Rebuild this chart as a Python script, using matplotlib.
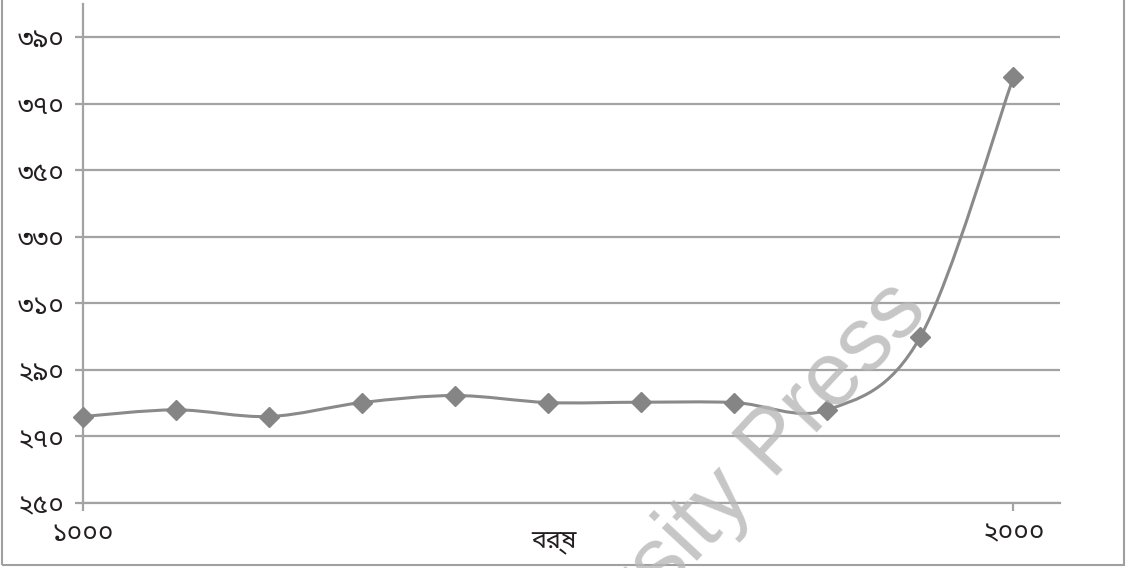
import matplotlib
matplotlib.use("Agg")
import matplotlib.pyplot as plt
from matplotlib.path import Path
from matplotlib.patches import PathPatch
import numpy as np

# data
years = [1000, 1100, 1200, 1300, 1400, 1500, 1600, 1700, 1800, 1900, 2000]
values = [276, 278, 276, 280.2, 282.3, 280.2, 280.3, 280.2, 278, 300, 378]
yticks = [250, 270, 290, 310, 330, 350, 370, 390]
ytick_labels = ["২৫০", "২৭০", "২৯০", "৩১০", "৩৩০", "৩৫০", "৩৭০", "৩৯০"]
xticks = [1000, 2000]
xtick_labels = ["১০০০", "২০০০"]
xlabel = "বর্ষ"

plt.rcParams['font.family'] = ["Noto Sans Bengali", "DejaVu Sans"]

grid_c = "#a3a3a3"
line_c = "#8a8a8a"
text_c = "#231f20"

fig = plt.figure(figsize=(11.28, 5.68), dpi=100)
ax = fig.add_axes([83/1128, 65/568, (1060-83)/1128, 499/568])

# smooth line through the points (cubic bezier, catmull-rom style)
xs = np.array(years, dtype=float)
ys = np.array(values, dtype=float)
verts = [(xs[0], ys[0])]
codes = [Path.MOVETO]
for i in range(len(xs) - 1):
    p0 = (xs[i-1], ys[i-1]) if i > 0 else (xs[i], ys[i])
    p1 = (xs[i], ys[i])
    p2 = (xs[i+1], ys[i+1])
    p3 = (xs[i+2], ys[i+2]) if i + 2 < len(xs) else (xs[i+1], ys[i+1])
    t = 6.0
    c1 = (p1[0] + (p2[0]-p0[0])/t, p1[1] + (p2[1]-p0[1])/t)
    c2 = (p2[0] - (p3[0]-p1[0])/t, p2[1] - (p3[1]-p1[1])/t)
    verts += [c1, c2, p2]
    codes += [Path.CURVE4]*3
ax.add_patch(PathPatch(Path(verts, codes), fill=False, edgecolor=line_c, lw=2.2, zorder=3))
ax.plot(years, values, linestyle="none", marker="D", ms=10, color="#858585", zorder=4, clip_on=False)

ax.set_xlim(1000, 2050)
ax.set_ylim(250, 400)
ax.set_yticks(yticks)
ax.set_yticklabels(ytick_labels)
ax.set_xticks(xticks)
ax.set_xticklabels(xtick_labels)
ax.yaxis.grid(True, color=grid_c, lw=1.6)
ax.set_axisbelow(True)
for s in ["top", "right"]:
    ax.spines[s].set_visible(False)
ax.spines["left"].set_color(grid_c)
ax.spines["left"].set_linewidth(1.6)
ax.spines["bottom"].set_color(grid_c)
ax.spines["bottom"].set_linewidth(1.6)
ax.tick_params(axis="y", length=6, width=1.6, color=grid_c, labelsize=19, pad=7, labelcolor=text_c)
ax.tick_params(axis="x", length=6, width=1.6, color=grid_c, labelsize=19, pad=6, labelcolor=text_c)
ax.text(0.482, -0.055, xlabel, transform=ax.transAxes, ha="center", va="top", fontsize=18, color=text_c)

# watermark
fig.text(930/1128, 1 - 312/568, "Oxford University Press", rotation=47, rotation_mode="anchor",
         ha="right", va="baseline", fontsize=65, color="#b8b8b8", alpha=0.8, zorder=10,
         family="Liberation Sans")

# outer frame
fig.patches.append(plt.Rectangle((2/1128, 3/568), 1122/1128, 580/568, transform=fig.transFigure,
                                 fill=False, edgecolor="#a0a0a0", lw=1.5))

fig.savefig("out.png", dpi=100)
